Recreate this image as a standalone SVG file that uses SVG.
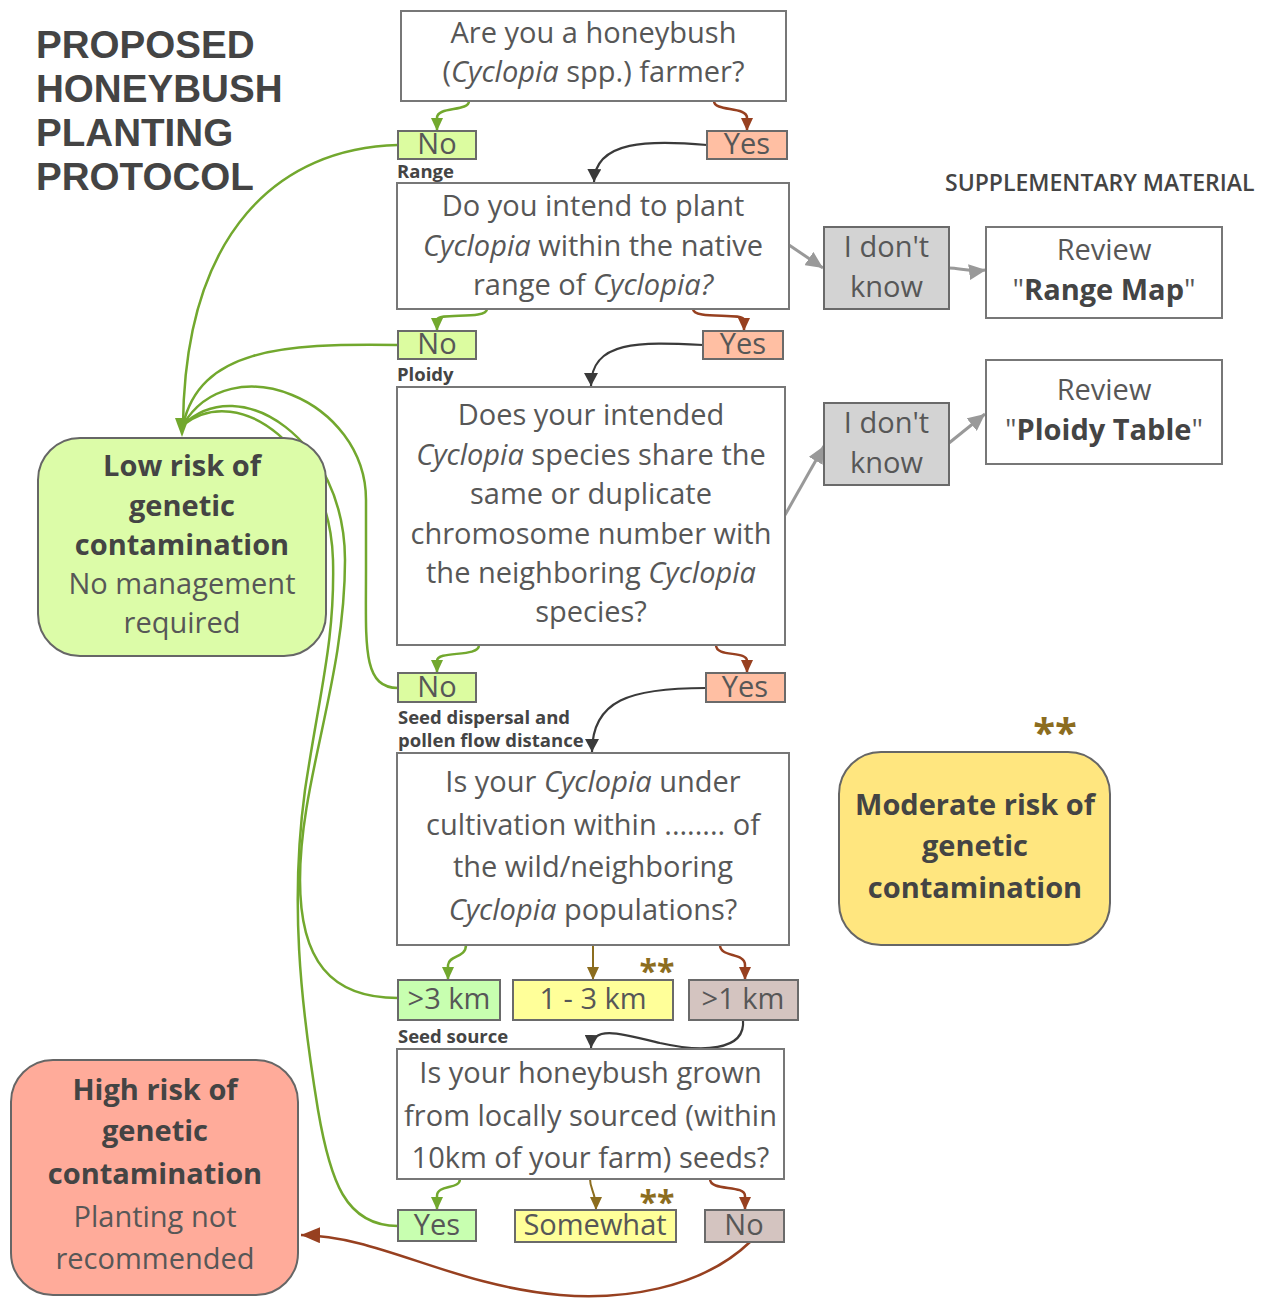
<svg xmlns="http://www.w3.org/2000/svg" width="1271" height="1303" viewBox="0 0 1271 1303">
<defs>
<style>
.t{font-family:"Open Sans","Liberation Sans",sans-serif;fill:#575757;text-anchor:middle}
.q{font-size:29px}
.b{font-weight:700;fill:#444}
.i{font-style:italic}
.lbl{font-family:"Open Sans","Liberation Sans",sans-serif;font-weight:700;font-size:18.5px;fill:#444}
.box{fill:#fff;stroke:#777;stroke-width:2}
.no{fill:#dcfca0;stroke:#6a6a6a;stroke-width:2}
.yes{fill:#ffbfa3;stroke:#6a6a6a;stroke-width:2}
.lg{fill:#c8ffb0;stroke:#6a6a6a;stroke-width:2}
.yl{fill:#ffff99;stroke:#6a6a6a;stroke-width:2}
.br{fill:#d4c4c0;stroke:#6a6a6a;stroke-width:2}
.idk{fill:#d3d3d3;stroke:#6a6a6a;stroke-width:2}
.g{fill:none;stroke:#72a82e;stroke-width:2.5}
.r{fill:none;stroke:#974020;stroke-width:2.5}
.o{fill:none;stroke:#8c6d1f;stroke-width:2}
.d{fill:none;stroke:#3a3a3a;stroke-width:2.2}
.gr{fill:none;stroke:#999;stroke-width:3}
.star{font-family:"Open Sans","Liberation Sans",sans-serif;font-weight:700;fill:#8c6d1f;text-anchor:middle}
</style>
<marker id="ag" markerUnits="userSpaceOnUse" markerWidth="14" markerHeight="12" refX="13" refY="6" orient="auto"><path d="M0,0 L13,6 L0,12 z" fill="#72a82e"/></marker>
<marker id="ar" markerUnits="userSpaceOnUse" markerWidth="14" markerHeight="12" refX="13" refY="6" orient="auto"><path d="M0,0 L13,6 L0,12 z" fill="#974020"/></marker>
<marker id="ao" markerUnits="userSpaceOnUse" markerWidth="14" markerHeight="12" refX="13" refY="6" orient="auto"><path d="M0,0 L13,6 L0,12 z" fill="#8c6d1f"/></marker>
<marker id="ad" markerUnits="userSpaceOnUse" markerWidth="14" markerHeight="14" refX="13" refY="7" orient="auto"><path d="M0,0 L13,7 L0,14 z" fill="#3a3a3a"/></marker>
<marker id="agr" markerUnits="userSpaceOnUse" markerWidth="18" markerHeight="16" refX="17" refY="8" orient="auto"><path d="M0,0 L17,8 L0,16 z" fill="#999"/></marker>
<marker id="arb" markerUnits="userSpaceOnUse" markerWidth="20" markerHeight="16" refX="19" refY="8" orient="auto"><path d="M0,0 L19,8 L0,16 z" fill="#974020"/></marker>
</defs>
<rect width="1271" height="1303" fill="#fff"/>

<g id="title" font-family="Liberation Sans, Arial, sans-serif" font-weight="700" font-size="38.6" fill="#444">
<text x="36" y="58">PROPOSED</text>
<text x="36" y="102">HONEYBUSH</text>
<text x="36" y="146">PLANTING</text>
<text x="36" y="190">PROTOCOL</text>
</g>
<text id="supp" x="945" y="191" font-family="Open Sans, Liberation Sans, sans-serif" font-weight="600" font-size="23" fill="#444">SUPPLEMENTARY MATERIAL</text>

<g id="connectors">
<path class="g" d="M469 101 C469 112 437 106 437 118 L437 131" marker-end="url(#ag)"/>
<path class="r" d="M714 101 C714 112 747 106 747 118 L747 131" marker-end="url(#ar)"/>
<path class="d" d="M707 145 C650 140 595 140 594 182" marker-end="url(#ad)"/>
<path class="g" d="M487 309 C487 320 437 312 437 320 L437 331" marker-end="url(#ag)"/>
<path class="r" d="M693 309 C693 320 744 312 744 320 L744 331" marker-end="url(#ar)"/>
<path class="d" d="M703 345 C640 342 591 340 591 386" marker-end="url(#ad)"/>
<path class="gr" d="M789 245 L823 268" marker-end="url(#agr)"/>
<path class="gr" d="M949 268 C960 268 970 272 986 270" marker-end="url(#agr)"/>
<path class="g" d="M479 645 C479 658 437 650 437 661 L437 673" marker-end="url(#ag)"/>
<path class="r" d="M716 645 C716 658 747 650 747 661 L747 673" marker-end="url(#ar)"/>
<path class="d" d="M706 688 C630 688 592 700 592 752" marker-end="url(#ad)"/>
<path class="gr" d="M785 515 L824 446" marker-end="url(#agr)"/>
<path class="gr" d="M949 443 L985 414" marker-end="url(#agr)"/>
<path class="g" d="M466 945 C466 958 449 955 448 965 L448 980" marker-end="url(#ag)"/>
<path class="o" d="M593 945 L593 980" marker-end="url(#ao)"/>
<path class="r" d="M720 945 C720 958 745 952 745 965 L745 980" marker-end="url(#ar)"/>
<path class="d" d="M743 1020 C746 1052 700 1052 660 1043 C620 1033 592 1025 591 1048" marker-end="url(#ad)"/>
<path class="g" d="M460 1179 C460 1190 437 1184 437 1196 L437 1210" marker-end="url(#ag)"/>
<path class="o" d="M590 1179 C590 1190 596 1192 596 1210" marker-end="url(#ao)"/>
<path class="r" d="M710 1179 C710 1192 745 1184 745 1196 L745 1210" marker-end="url(#ar)"/>
<path class="r" d="M750 1242 C700 1290 620 1300 560 1295 C450 1285 380 1236 301 1235" stroke-width="3" marker-end="url(#arb)"/>
<path class="g" d="M398 145 C280 148 185 230 183 425"/>
<path class="g" d="M398 345 C280 343 200 350 183 425"/>
<path class="g" d="M398 688 C362 688 366 645 366 570 L366 500 C366 400 230 345 183 425"/>
<path class="g" d="M398 998 C330 998 300 960 300 880 C300 780 345 680 345 560 C345 440 240 370 183 425"/>
<path class="g" d="M398 1226 C345 1226 330 1180 318 1110 C300 1000 290 900 305 790 C320 690 335 640 333 560 C330 450 240 380 183 425"/>
<path d="M182 437 L175 418 L189 418 z" fill="#72a82e"/>
</g>

<g id="q1"><rect class="box" x="401" y="11" width="385" height="90"/>
<text class="t q" x="593.5" y="43">Are you a honeybush</text>
<text class="t q" x="593.5" y="82">(<tspan class="i">Cyclopia</tspan> spp.) farmer?</text></g>
<g id="no1"><rect class="no" x="398" y="131" width="78" height="28"/><text class="t q" x="437" y="154">No</text></g>
<g id="yes1"><rect class="yes" x="707" y="131" width="80" height="28"/><text class="t q" x="747" y="154">Yes</text></g>
<text id="lbl-range" class="lbl" x="397" y="178">Range</text>

<g id="q2"><rect class="box" x="397" y="183" width="392" height="126"/>
<text class="t q" x="593" y="216">Do you intend to plant</text>
<text class="t q" x="593" y="256"><tspan class="i">Cyclopia</tspan> within the native</text>
<text class="t q" x="593" y="295">range of <tspan class="i">Cyclopia?</tspan></text></g>
<g id="no2"><rect class="no" x="398" y="331" width="78" height="28"/><text class="t q" x="437" y="354">No</text></g>
<g id="yes2"><rect class="yes" x="703" y="331" width="80" height="28"/><text class="t q" x="743" y="354">Yes</text></g>
<text id="lbl-ploidy" class="lbl" x="397" y="381">Ploidy</text>

<g id="idk1"><rect class="idk" x="824" y="227" width="125" height="82"/>
<text class="t q" x="886.5" y="257">I don't</text><text class="t q" x="886.5" y="297">know</text></g>
<g id="rev1"><rect class="box" x="986" y="227" width="236" height="91"/>
<text class="t q" x="1104" y="260">Review</text>
<text class="t q" x="1104" y="300">"<tspan class="b">Range Map</tspan>"</text></g>

<g id="q3"><rect class="box" x="397" y="387" width="388" height="258"/>
<text class="t q" x="591" y="425">Does your intended</text>
<text class="t q" x="591" y="465"><tspan class="i">Cyclopia</tspan> species share the</text>
<text class="t q" x="591" y="504">same or duplicate</text>
<text class="t q" x="591" y="544">chromosome number with</text>
<text class="t q" x="591" y="583">the neighboring <tspan class="i">Cyclopia</tspan></text>
<text class="t q" x="591" y="622">species?</text></g>
<g id="idk2"><rect class="idk" x="824" y="403" width="125" height="82"/>
<text class="t q" x="886.5" y="433">I don't</text><text class="t q" x="886.5" y="473">know</text></g>
<g id="rev2"><rect class="box" x="986" y="360" width="236" height="104"/>
<text class="t q" x="1104" y="400">Review</text>
<text class="t q" x="1104" y="440">"<tspan class="b">Ploidy Table</tspan>"</text></g>

<g id="no3"><rect class="no" x="398" y="673" width="78" height="29"/><text class="t q" x="437" y="697">No</text></g>
<g id="yes3"><rect class="yes" x="706" y="673" width="79" height="29"/><text class="t q" x="745" y="697">Yes</text></g>
<text id="lbl-seed" class="lbl" x="398" y="724">Seed dispersal and<tspan x="398" y="747">pollen flow distance</tspan></text>

<g id="q4"><rect class="box" x="397" y="753" width="392" height="192"/>
<text class="t q" x="593" y="792">Is your <tspan class="i">Cyclopia</tspan> under</text>
<text class="t q" x="593" y="835">cultivation within ........ of</text>
<text class="t q" x="593" y="877">the wild/neighboring</text>
<text class="t q" x="593" y="920"><tspan class="i">Cyclopia</tspan> populations?</text></g>

<g id="d3"><rect class="lg" x="398" y="980" width="102" height="40"/><text class="t q" x="449" y="1009">&gt;3 km</text></g>
<g id="d13"><rect class="yl" x="513" y="980" width="160" height="40"/><text class="t q" x="593" y="1009">1 - 3 km</text>
<text class="star" x="657" y="983" font-size="32">**</text></g>
<g id="d1"><rect class="br" x="689" y="980" width="109" height="40"/><text class="t q" x="743" y="1009">&gt;1 km</text></g>
<text id="lbl-source" class="lbl" x="398" y="1043">Seed source</text>

<g id="q5"><rect class="box" x="397" y="1049" width="387" height="130"/>
<text class="t q" x="590.5" y="1083">Is your honeybush grown</text>
<text class="t q" x="590.5" y="1126">from locally sourced (within</text>
<text class="t q" x="590.5" y="1168">10km of your farm) seeds?</text></g>

<g id="s-yes"><rect class="lg" x="398" y="1210" width="78" height="31"/><text class="t q" x="437" y="1235">Yes</text></g>
<g id="s-some"><rect class="yl" x="515" y="1210" width="161" height="32"/><text class="t q" x="595" y="1235">Somewhat</text>
<text class="star" x="657" y="1214" font-size="32">**</text></g>
<g id="s-no"><rect class="br" x="705" y="1210" width="79" height="32"/><text class="t q" x="744" y="1235">No</text></g>

<g id="low"><rect x="38" y="438" width="288" height="218" rx="42" fill="#dcfca8" stroke="#666" stroke-width="2"/>
<text class="t b" font-size="29" x="182" y="476">Low risk of</text>
<text class="t b" font-size="29" x="182" y="516">genetic</text>
<text class="t b" font-size="29" x="182" y="555">contamination</text>
<text class="t q" x="182" y="594">No management</text>
<text class="t q" x="182" y="633">required</text></g>

<g id="moderate"><rect x="839" y="752" width="271" height="193" rx="42" fill="#ffe67f" stroke="#666" stroke-width="2"/>
<text class="star" x="1055" y="747" font-size="40">**</text>
<text class="t b" font-size="29" x="975" y="815">Moderate risk of</text>
<text class="t b" font-size="29" x="975" y="856">genetic</text>
<text class="t b" font-size="29" x="975" y="898">contamination</text></g>

<g id="high"><rect x="11" y="1060" width="287" height="235" rx="42" fill="#ffab9a" stroke="#666" stroke-width="2"/>
<text class="t b" font-size="29" x="155" y="1100">High risk of</text>
<text class="t b" font-size="29" x="155" y="1141">genetic</text>
<text class="t b" font-size="29" x="155" y="1184">contamination</text>
<text class="t q" x="155" y="1227">Planting not</text>
<text class="t q" x="155" y="1269">recommended</text></g>
</svg>
